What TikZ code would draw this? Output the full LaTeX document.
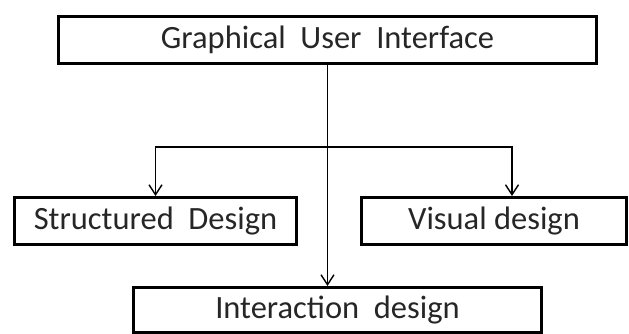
\documentclass[tikz,border=0pt]{standalone}
\usepackage{fontspec}
\setmainfont{Carlito}
\usetikzlibrary{arrows.meta}
\begin{document}
\begin{tikzpicture}[x=1pt, y=-1pt, >={Straight Barb[length=10pt,width=13pt]},
        kasten/.style={draw, line width=3pt, inner sep=0pt, font=\fontsize{32.5}{38}\selectfont, text=black!85},
        pfeil/.style={line width=1.4pt}]
        \useasboundingbox (0,0) rectangle (629,334);
        
        % Oberer Kasten
        \node[kasten, minimum width=538pt, minimum height=47pt] (gui) at (327.5,40) {Graphical~ User~ Interface};
        
        % Untere Kaesten
        \node[kasten, minimum width=282pt, minimum height=47pt] (struct) at (155.5,221) {Structured~ Design};
        \node[kasten, minimum width=265pt, minimum height=47pt] (visual) at (494,221) {Visual design};
        \node[kasten, minimum width=408pt, minimum height=44.5pt] (inter) at (337.5,309.75) {Interaction~ design};
        
        % Verbindungen
        \coordinate (gabel) at (gui.south |- 0,147);
        \draw[pfeil, ->] (gui.south) -- (gui.south |- inter.north);
        \draw[pfeil, ->] (gabel) -| (struct.north);
        \draw[pfeil, ->] (gabel) -| ([xshift=18pt]visual.north);
    \end{tikzpicture}
\end{document}
